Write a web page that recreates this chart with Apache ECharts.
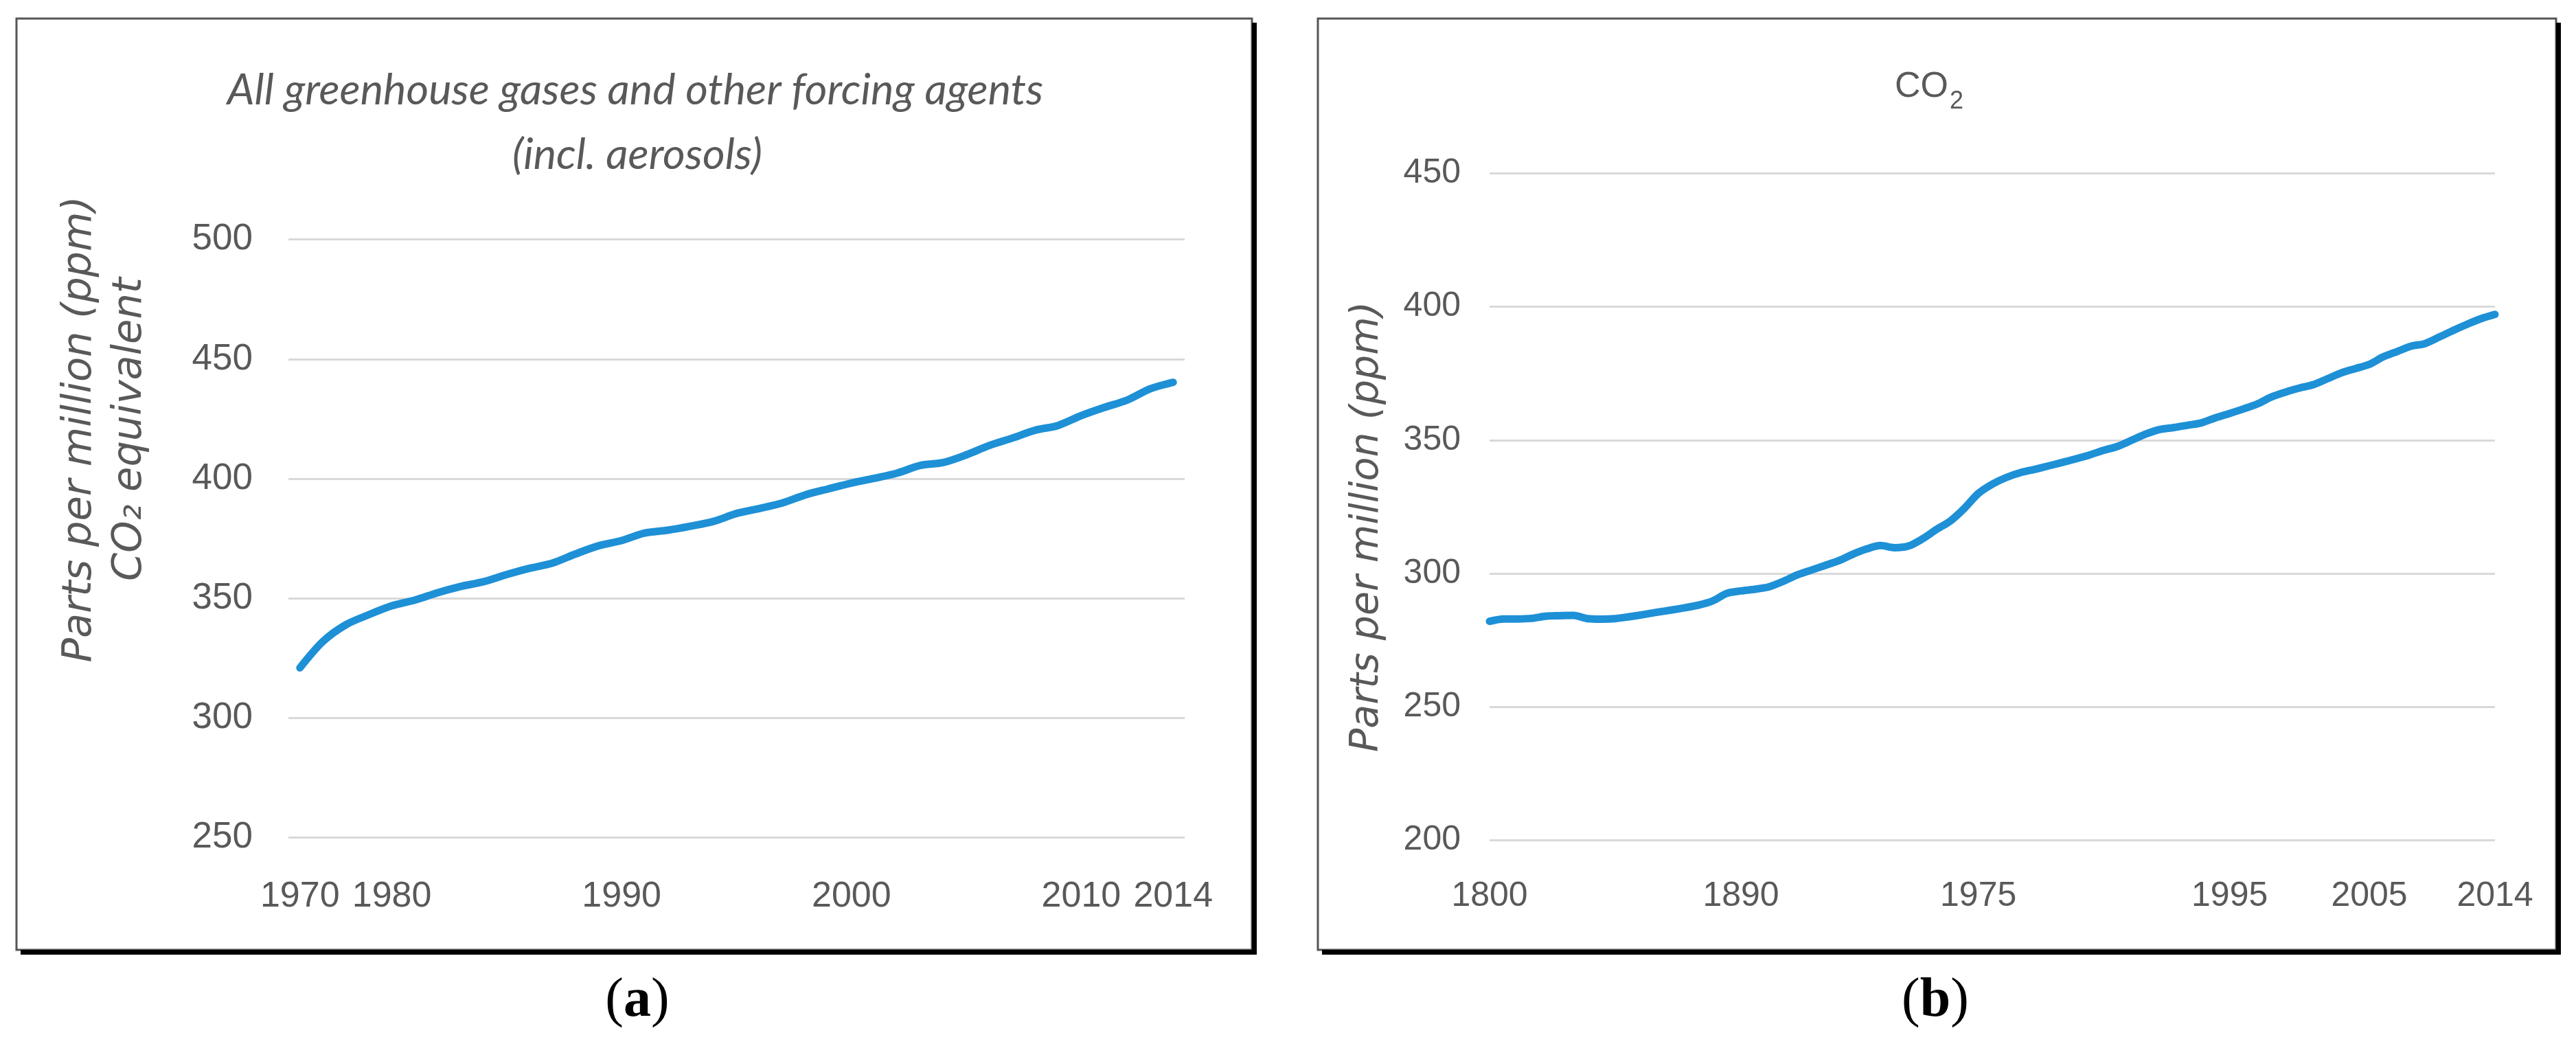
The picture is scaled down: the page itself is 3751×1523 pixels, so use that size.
<!DOCTYPE html>
<html>
<head>
<meta charset="utf-8">
<script src="https://cdn.jsdelivr.net/npm/echarts@6/dist/echarts.min.js"></script>
<style>
html,body{margin:0;padding:0;background:#fff;}
#chart{width:3751px;height:1523px;}
</style>
</head>
<body>
<div id="chart"></div>
<script>
// ---- Panel (a): all greenhouse gases, CO2-equivalent ----
var yearsA = ['1970','1972','1975','1978','1980','1981','1982','1983','1984','1985','1986','1987','1988','1989',
  '1990','1991','1992','1993','1994','1995','1996','1997','1998','1999','2000','2001','2002','2003','2004',
  '2005','2006','2007','2008','2009','2010','2011','2012','2013','2014'];
var valuesA = [321,332,339,343.2,346.9,349.3,352.4,355,357,360,
  362.6,364.8,368.6,372,374.2,377.3,378.5,380.2,382.2,385.5,
  387.6,389.9,393.3,395.8,398.2,400.2,402.4,405.6,406.8,410,
  413.9,417,420.3,422.3,426.4,429.8,432.9,437.6,440.3];
var labelsA = ['1970','1980','1990','2000','2010','2014'];
var yTicksA = {min:250, max:500, interval:50};

// ---- Panel (b): CO2 ----
var yearsB = ['1800','1805','1810','1815','1820','1825','1830','1835','1840','1845','1850','1855','1860','1865',
  '1870','1875','1880','1885','1890','1895','1900','1905','1910','1915','1920','1925','1930','1935','1940',
  '1945','1950','1955','1960','1965','1970','1975','1977','1979','1980','1981','1982','1983','1984','1985',
  '1986','1987','1988','1989','1990','1991','1992','1993','1994','1995','1996','1997','1998','1999','2000',
  '2001','2002','2003','2004','2005','2006','2007','2008','2009','2010','2011','2012','2013','2014'];
var valuesB = [282.1,283,283,283.2,284,284.2,284.3,283.1,282.9,283.1,
  283.8,284.6,285.5,286.3,287.2,288.2,289.8,292.6,293.5,294.1,
  295,297,299.4,301.2,303,304.8,307.2,309.2,310.5,309.7,
  310.3,313,316.5,319.7,324.4,330,333.5,336,337.8,339,
  340.3,341.6,343,344.5,346.2,347.7,350,352.3,354,354.7,
  355.6,356.5,358.4,360,361.7,363.6,366.2,368,369.5,370.8,
  373,375.2,376.8,378.4,381.2,383.2,385.2,386.2,388.6,391.1,
  393.4,395.5,397.1];
var labelsB = ['1800','1890','1975','1995','2005','2014'];
var yTicksB = {min:200, max:450, interval:50};

var titleA1 = 'All greenhouse gases and other forcing agents';
var titleA2 = '(incl. aerosols)';
var yNameA = 'Parts per million (ppm)\nCO\u2082 equivalent';
var yNameB = 'Parts per million (ppm)';
var titleB = 'CO';
var titleBSub = '2';

var GRAY = '#595959';
var LINE = '#1e90d6';
var tickFont = "'Liberation Sans Narrow', 'Liberation Sans', Arial, sans-serif";

var chart = echarts.init(document.getElementById('chart'), null, {renderer:'canvas'});

function frame(x, y, w, h) {
  return [
    {type:'rect', z:-5, shape:{x:x, y:y, width:w, height:h}, style:{fill:'none', stroke:'#555', lineWidth:3}},
    {type:'line', z:-4, shape:{x1:x+w+3.5, y1:y+6, x2:x+w+3.5, y2:y+h+7}, style:{stroke:'#000', lineWidth:7}},
    {type:'line', z:-4, shape:{x1:x+6, y1:y+h+3.5, x2:x+w+7, y2:y+h+3.5}, style:{stroke:'#000', lineWidth:7}}
  ];
}

var graphics = [].concat(
  frame(24, 27, 1799, 1356),
  frame(1919, 27, 1803, 1356),
  [
    {type:'text', style:{x:925, y:132, text:titleA1, textAlign:'center', textVerticalAlign:'middle',
      font:"italic 63px Lato, 'Open Sans', sans-serif", fill:GRAY}},
    {type:'text', style:{x:928, y:226, text:titleA2, textAlign:'center', textVerticalAlign:'middle',
      font:"italic 63px Lato, 'Open Sans', sans-serif", fill:GRAY}},
    {type:'text', x:153, y:625, rotation:Math.PI/2, style:{x:0, y:0, text:yNameA, textAlign:'center', textVerticalAlign:'middle',
      font:"italic 59px 'DejaVu Sans', sans-serif", lineHeight:73, fill:GRAY}},
    {type:'text', style:{x:2837, y:127, text:titleB, textAlign:'right', textVerticalAlign:'middle',
      font:"52px " + tickFont, fill:GRAY}},
    {type:'text', style:{x:2839, y:148, text:titleBSub, textAlign:'left', textVerticalAlign:'middle',
      font:"36px " + tickFont, fill:GRAY}},
    {type:'text', x:1991, y:767, rotation:Math.PI/2, style:{x:0, y:0, text:yNameB, textAlign:'center', textVerticalAlign:'middle',
      font:"italic 57px 'DejaVu Sans', sans-serif", fill:GRAY}},
    {type:'text', style:{x:928, y:1458, text:'{p|(}{b|a}{p|)}', textAlign:'center', textVerticalAlign:'middle',
      rich:{p:{fontFamily:"'Liberation Serif', serif", fontSize:80, fill:'#000'},
            b:{fontFamily:"'Liberation Serif', serif", fontSize:80, fontWeight:'bold', fill:'#000'}}}},
    {type:'text', style:{x:2818, y:1458, text:'{p|(}{b|b}{p|)}', textAlign:'center', textVerticalAlign:'middle',
      rich:{p:{fontFamily:"'Liberation Serif', serif", fontSize:80, fill:'#000'},
            b:{fontFamily:"'Liberation Serif', serif", fontSize:80, fontWeight:'bold', fill:'#000'}}}}
  ]
);

function xAxisOf(idx, data, labels, gap, margin, size) {
  return {
    type:'category', gridIndex:idx, data:data, boundaryGap:gap,
    axisLine:{show:false}, axisTick:{show:false}, splitLine:{show:false},
    axisLabel:{
      interval:function(i, v){ return labels.indexOf(v) >= 0; },
      color:GRAY, fontFamily:tickFont, fontSize:size, lineHeight:60, margin:margin
    }
  };
}
function yAxisOf(idx, t, margin, size) {
  return {
    type:'value', gridIndex:idx, min:t.min, max:t.max, interval:t.interval,
    axisLine:{show:false}, axisTick:{show:false},
    splitLine:{show:true, lineStyle:{color:'#d9d9d9', width:3}},
    axisLabel:{color:GRAY, fontFamily:tickFont, fontSize:size, margin:margin}
  };
}

chart.setOption({
  animation:false,
  backgroundColor:'#fff',
  graphic:graphics,
  grid:[
    {left:420, right:3751-1725, top:348.7, bottom:1523-1219.7},
    {left:2169, right:3751-3633, top:252.3, bottom:1523-1223.6}
  ],
  xAxis:[
    xAxisOf(0, yearsA, labelsA, true, 56, 52),
    xAxisOf(1, yearsB, labelsB, false, 52, 50)
  ],
  yAxis:[
    yAxisOf(0, yTicksA, 52, 53),
    yAxisOf(1, yTicksB, 42, 50)
  ],
  series:[
    {type:'line', xAxisIndex:0, yAxisIndex:0, data:valuesA, smooth:0.3, symbol:'none',
      lineStyle:{color:LINE, width:11, cap:'round', join:'round'}},
    {type:'line', xAxisIndex:1, yAxisIndex:1, data:valuesB, smooth:0.3, symbol:'none',
      lineStyle:{color:LINE, width:11, cap:'round', join:'round'}}
  ]
});
</script>
</body>
</html>
